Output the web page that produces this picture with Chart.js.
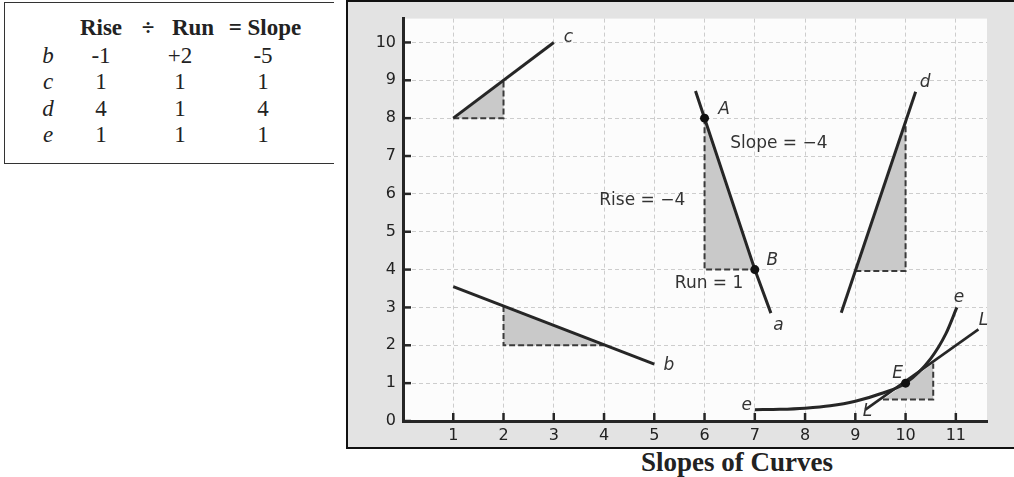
<!DOCTYPE html>
<html lang="en">
<head>
<meta charset="UTF-8">
<title>Slopes of Curves</title>
<script src="https://cdn.jsdelivr.net/npm/chart.js@4.4.1/dist/chart.umd.min.js"></script>
<style>
  html, body { margin:0; padding:0; background:#fff; width:1014px; height:477px; overflow:hidden; }
  .tbox { position:absolute; left:4px; top:2px; width:329px; height:160px;
          border-top:1.5px solid #333; border-left:1.5px solid #333; border-bottom:1.5px solid #333; }
  .cell { position:absolute; width:90px; margin-left:-45px; text-align:center;
          font-family:"Liberation Serif","Times New Roman",serif; font-size:23px; color:#222;
          line-height:26px; margin-top:-13px; }
  .hd { font-weight:bold; }
  .it { font-style:italic; }
  .frame { position:absolute; left:346px; top:0; width:670px; height:445px; border:2px solid #111; }
  .wrap { position:absolute; left:348px; top:2px; width:666px; height:445px; }
  .title { position:absolute; left:537px; width:400px; top:447px; text-align:center;
           font-family:"Liberation Serif","Times New Roman",serif; font-weight:bold; font-size:27px; color:#222; }
</style>
</head>
<body>
<div class="tbox"></div>
<div id="tbl"></div>
<div class="frame"></div>
<div class="wrap"><canvas id="cv"></canvas></div>
<div class="title">Slopes of Curves</div>
<script>
// table
const tHead = ["Rise", "\u00f7", "Run", "= Slope"];
const tRows = ["b", "c", "d", "e"];
const tRise = ["-1", "1", "4", "1"];
const tRun = ["+2", "1", "1", "1"];
const tSlope = ["-5", "1", "4", "1"];

// chart
const xTicks = [1, 2, 3, 4, 5, 6, 7, 8, 9, 10, 11];
const yTicks = [0, 1, 2, 3, 4, 5, 6, 7, 8, 9, 10];

const lineA = [[5.82, 8.72], [6, 8], [7, 4], [7.32, 2.85]];
const lineB = [[1, 3.55], [5, 1.5]];
const lineC = [[1, 8], [3, 10]];
const lineD = [[8.72, 2.86], [10.2, 8.7]];
const curveE = [[7, 0.3], [7.5, 0.31], [8, 0.34], [8.5, 0.4], [9, 0.52], [9.5, 0.72], [10, 1.0], [10.5, 1.65], [10.8, 2.3], [11.02, 3.0]];
const lineL = [[9.2, 0.3], [11.45, 2.42]];

const shadeA = [[6, 8], [6, 4], [7, 4]];
const shadeB = [[2, 3.04], [2, 2], [4, 2]];
const shadeC = [[1, 8], [2, 9], [2, 8]];
const shadeD = [[9, 3.96], [10, 3.96], [10, 7.9]];
const shadeE = [[9.55, 0.57], [10.55, 0.57], [10.55, 1.52]];

const legA = [[6, 8], [6, 4], [7, 4]];
const legB = [[2, 3.04], [2, 2], [4, 2]];
const legC = [[1, 8], [2, 8], [2, 9]];
const legD = [[9, 3.96], [10, 3.96], [10, 7.9]];
const legE = [[9.55, 0.57], [10.55, 0.57], [10.55, 1.52]];

const dots = [[6, 8], [7, 4], [10, 1]];

const labelText = ["c", "A", "Slope = \u22124", "Rise = \u22124", "d", "B", "Run = 1", "a", "b", "e", "L", "E", "e", "L"];
const labelX = [3.29, 6.39, 7.48, 4.76, 10.39, 7.35, 6.09, 7.47, 5.29, 11.06, 11.55, 9.84, 6.84, 9.24];
const labelY = [10.12, 8.23, 7.34, 5.81, 8.93, 4.25, 3.63, 2.53, 1.46, 3.25, 2.66, 1.26, 0.42, 0.25];
const labelItalic = [true, true, false, false, true, true, false, true, true, true, true, true, true, true];

// build table cells
var tbl = document.getElementById("tbl");
function cell(txt, x, y, cls) {
    var d = document.createElement("div");
    d.className = "cell " + cls;
    d.style.left = x + "px";
    d.style.top = y + "px";
    d.textContent = txt;
    tbl.appendChild(d);
}
var headX = [101, 148, 193, 265];
for (var i = 0; i < tHead.length; i++) cell(tHead[i], headX[i], 28, "hd");
for (var r = 0; r < tRows.length; r++) {
    var y = 56 + r * 26.3;
    cell(tRows[r], 48, y, "it");
    cell(tRise[r], 101, y, "");
    cell(tRun[r], 180, y, "");
    cell(tSlope[r], 263, y, "");
}

function pts(arr) { return arr.map(p => ({x: p[0], y: p[1]})); }

const INK = "#262626";
function solid(arr, extra) {
    return Object.assign({data: pts(arr), showLine: true, borderColor: INK, borderWidth: 3,
        pointRadius: 0, fill: false, order: 1}, extra || {});
}
function dashed(arr) {
    return {data: pts(arr), showLine: true, borderColor: "#3a3a3a", borderWidth: 2,
        borderDash: [6, 3], pointRadius: 0, fill: false, order: 2};
}
function shade(arr) {
    return {data: pts(arr), showLine: true, borderWidth: 0, borderColor: "rgba(0,0,0,0)",
        backgroundColor: "#c9c9c9", fill: "shape", pointRadius: 0, order: 3};
}

const bgPlugin = {
    id: "bg",
    beforeDraw(chart) {
        const {ctx, chartArea: a} = chart;
        ctx.save();
        ctx.fillStyle = "#e3e3e3";
        ctx.fillRect(0, 0, chart.width, chart.height);
        ctx.fillStyle = "#fcfcfc";
        ctx.fillRect(a.left, a.top, a.right - a.left, a.bottom - a.top);
        ctx.restore();
    }
};

const marksPlugin = {
    id: "marks",
    afterDraw(chart) {
        const {ctx, chartArea: a, scales: {x, y}} = chart;
        ctx.save();
        ctx.strokeStyle = INK;
        ctx.lineWidth = 2.5;
        yTicks.forEach(v => {
            const py = y.getPixelForValue(v);
            ctx.beginPath(); ctx.moveTo(a.left, py); ctx.lineTo(a.left + 8, py); ctx.stroke();
        });
        xTicks.forEach(v => {
            const px = x.getPixelForValue(v);
            ctx.beginPath(); ctx.moveTo(px, a.bottom); ctx.lineTo(px, a.bottom - 8); ctx.stroke();
        });
        ctx.fillStyle = "#333";
        ctx.textAlign = "center";
        ctx.textBaseline = "middle";
        for (var i = 0; i < labelText.length; i++) {
            ctx.font = (labelItalic[i] ? "italic " : "") + '17px "DejaVu Sans"';
            ctx.fillText(labelText[i], x.getPixelForValue(labelX[i]), y.getPixelForValue(labelY[i]));
        }
        ctx.restore();
    }
};

new Chart(document.getElementById("cv"), {
    type: "scatter",
    data: {
        datasets: [
            {data: pts(dots), pointRadius: 4.5, pointBackgroundColor: "#111", pointBorderWidth: 0, order: 0},
            solid(lineA), solid(lineB), solid(lineC), solid(lineD),
            solid(curveE, {cubicInterpolationMode: "monotone"}), solid(lineL, {borderWidth: 2.5}),
            dashed(legA), dashed(legB), dashed(legC), dashed(legD), dashed(legE),
            shade(shadeA), shade(shadeB), shade(shadeC), shade(shadeD), shade(shadeE)
        ]
    },
    options: {
        responsive: true,
        maintainAspectRatio: false,
        animation: false,
        layout: {padding: {left: 0, top: 16, right: 27, bottom: 0}},
        plugins: {legend: {display: false}, tooltip: {enabled: false}},
        scales: {
            x: {
                type: "linear", min: 0, max: 11.62,
                afterBuildTicks: s => { s.ticks = xTicks.map(v => ({value: v})); },
                afterFit: s => { s.height = 26; },
                grid: {color: "#cdcdcd", lineWidth: 1, drawTicks: false},
                border: {color: INK, width: 3, dash: [4, 3]},
                ticks: {padding: 5, color: "#222", font: {family: "DejaVu Sans", size: 16}}
            },
            y: {
                type: "linear", min: 0, max: 10.63,
                afterBuildTicks: s => { s.ticks = yTicks.map(v => ({value: v})); },
                afterFit: s => { s.width = 55; },
                grid: {color: "#cdcdcd", lineWidth: 1, drawTicks: false},
                border: {color: INK, width: 3, dash: [4, 3]},
                ticks: {padding: 7, color: "#222", font: {family: "DejaVu Sans", size: 16}}
            }
        }
    },
    plugins: [bgPlugin, marksPlugin]
});
</script>
</body>
</html>
